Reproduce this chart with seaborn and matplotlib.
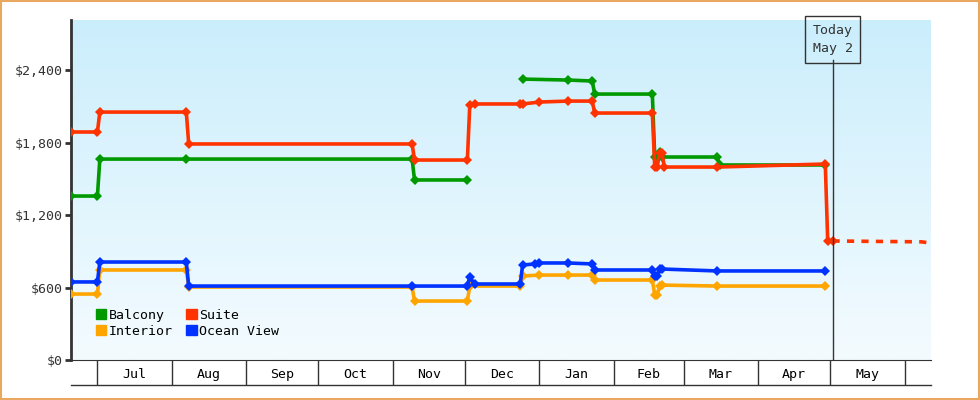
import numpy as np
import pandas as pd
import matplotlib
matplotlib.use("Agg")
import matplotlib.pyplot as plt
import matplotlib.dates as mdates
from matplotlib.lines import Line2D
from matplotlib.patches import Patch
from matplotlib.colors import LinearSegmentedColormap
import seaborn as sns

plt.rcParams["font.family"] = "DejaVu Sans Mono"

balcony_a_dates = ["2023-06-20", "2023-07-01", "2023-07-02", "2023-08-07", "2023-11-09", "2023-11-10", "2023-12-02"]
balcony_a_vals = [1357, 1357, 1663, 1663, 1663, 1490, 1490]
balcony_b_dates = ["2023-12-25", "2024-01-13", "2024-01-23", "2024-01-24", "2024-02-17", "2024-02-18",
                   "2024-02-19", "2024-02-20", "2024-02-21", "2024-03-15", "2024-03-16", "2024-04-29"]
balcony_b_vals = [2325, 2317, 2309, 2201, 2201, 1680, 1680, 1721, 1680, 1680, 1614, 1614]

suite_dates = ["2023-06-20", "2023-07-01", "2023-07-02", "2023-08-07", "2023-08-08", "2023-11-09", "2023-11-10",
               "2023-12-02", "2023-12-03", "2023-12-05", "2023-12-24", "2023-12-25", "2024-01-01", "2024-01-13",
               "2024-01-23", "2024-01-24", "2024-02-17", "2024-02-18", "2024-02-19", "2024-02-20", "2024-02-21",
               "2024-02-22", "2024-03-15", "2024-04-29", "2024-04-30", "2024-05-02"]
suite_vals = [1887, 1887, 2052, 2052, 1788, 1788, 1655, 1655, 2110, 2119, 2119, 2119, 2135, 2143,
              2143, 2044, 2044, 1597, 1597, 1713, 1713, 1597, 1597, 1622, 985, 985]
suite_fc_dates = ["2024-05-02", "2024-06-08", "2024-06-12"]
suite_fc_vals = [985, 978, 968]

interior_dates = ["2023-06-20", "2023-07-01", "2023-07-02", "2023-08-07", "2023-08-08", "2023-11-09", "2023-11-10",
                  "2023-12-02", "2023-12-03", "2023-12-24", "2023-12-25", "2024-01-01", "2024-01-13", "2024-01-23",
                  "2024-01-24", "2024-02-17", "2024-02-18", "2024-02-19", "2024-02-20", "2024-02-21", "2024-03-15",
                  "2024-04-29"]
interior_vals = [546, 546, 745, 745, 604, 604, 488, 488, 612, 612, 695, 703, 703, 703,
                 662, 662, 538, 538, 612, 620, 612, 612]

ocean_dates = ["2023-06-20", "2023-07-01", "2023-07-02", "2023-08-07", "2023-08-08", "2023-11-09", "2023-12-02",
               "2023-12-03", "2023-12-05", "2023-12-24", "2023-12-25", "2023-12-30", "2024-01-01", "2024-01-13",
               "2024-01-23", "2024-01-24", "2024-02-17", "2024-02-18", "2024-02-19", "2024-02-20", "2024-02-21",
               "2024-03-15", "2024-04-29"]
ocean_vals = [646, 646, 811, 811, 612, 612, 612, 687, 629, 629, 786, 795, 803, 803,
              795, 745, 745, 695, 695, 753, 753, 737, 737]

month_labels = ["Jul", "Aug", "Sep", "Oct", "Nov", "Dec", "Jan", "Feb", "Mar", "Apr", "May"]
y_ticks = [0, 600, 1200, 1800, 2400]
today = "2024-05-02"

colors = {"Balcony": "#009900", "Suite": "#ff3300", "Interior": "#ffa500", "Ocean View": "#0033ff"}

fig = plt.figure(figsize=(9.8, 4.0), dpi=100)
fig.patch.set_facecolor("white")
fig.patches.append(plt.Rectangle((0.001, 0.002), 0.998, 0.996, transform=fig.transFigure,
                                 fill=False, edgecolor="#e8a860", linewidth=1.5))
ax = fig.add_axes([71 / 980, 40 / 400, 860 / 980, 340 / 400])

xmin, xmax = pd.Timestamp("2023-06-20"), pd.Timestamp("2024-06-12")
ymax = 2814
grad = np.linspace(0, 1, 256).reshape(-1, 1)
cm = LinearSegmentedColormap.from_list("bg", ["#f4fbff", "#cbeefc"])
ax.imshow(grad, aspect="auto", cmap=cm, origin="lower",
          extent=[mdates.date2num(xmin), mdates.date2num(xmax), 0, ymax], zorder=0)

def draw(dates, vals, name, **kw):
    df = pd.DataFrame({"date": pd.to_datetime(dates), "price": vals})
    sns.lineplot(data=df, x="date", y="price", ax=ax, color=colors[name], sort=False,
                 linewidth=2.6, zorder=3, **kw)

mk = dict(marker="D", markersize=5.5, markeredgewidth=0)
draw(balcony_a_dates, balcony_a_vals, "Balcony", **mk)
draw(balcony_b_dates, balcony_b_vals, "Balcony", **mk)
draw(interior_dates, interior_vals, "Interior", **mk)
draw(ocean_dates, ocean_vals, "Ocean View", **mk)
draw(suite_dates, suite_vals, "Suite", **mk)
draw(suite_fc_dates, suite_fc_vals, "Suite", linestyle=(0, (2, 2)))

ax.set_xlim(xmin, xmax)
ax.set_ylim(0, ymax)
ax.set_xlabel("")
ax.set_ylabel("")

ax.set_yticks(y_ticks)
ax.set_yticklabels([f"${v:,}" for v in y_ticks], color="#333333", fontsize=9.5)
ax.tick_params(axis="y", length=4, width=2, color="#333333", pad=2)

bounds = pd.date_range("2023-07-01", "2024-06-01", freq="MS")
ax.set_xticks(bounds)
ax.set_xticklabels([])
ax.tick_params(axis="x", which="major", length=18, width=1, color="#333333", direction="out")
mids = [b + (bounds[i + 1] - b) / 2 for i, b in enumerate(bounds[:-1])]
ax.set_xticks(mids, minor=True)
ax.set_xticklabels(month_labels, minor=True, fontsize=9.5)
ax.tick_params(axis="x", which="minor", length=0, pad=6)

for s in ["top", "right"]:
    ax.spines[s].set_visible(False)
ax.spines["left"].set_linewidth(2)
ax.spines["left"].set_color("#333333")
ax.spines["bottom"].set_color("#333333")
fig.add_artist(Line2D([71 / 980, 931 / 980], [15 / 400, 15 / 400], color="#333333", linewidth=1))

t = pd.Timestamp(today)
ax.plot([t, t], [0, 2480], color="#333333", linewidth=1, zorder=4)
ax.text(t, 2650, "Today\nMay 2", ha="center", va="center", fontsize=9.5, color="#333333",
        linespacing=1.5,
        bbox=dict(boxstyle="square,pad=0.6", facecolor="none", edgecolor="#333333", linewidth=1), zorder=5)

handles = [Patch(color=colors[n]) for n in ["Balcony", "Interior", "Suite", "Ocean View"]]
ax.legend(handles, ["Balcony", "Interior", "Suite", "Ocean View"], ncol=2, loc="lower left",
          bbox_to_anchor=(0.015, 0.03), frameon=False, handlelength=0.8, handleheight=0.8,
          handletextpad=0.2, columnspacing=1.0, labelspacing=0.25, fontsize=9.5)

fig.savefig("out.png", dpi=100)
